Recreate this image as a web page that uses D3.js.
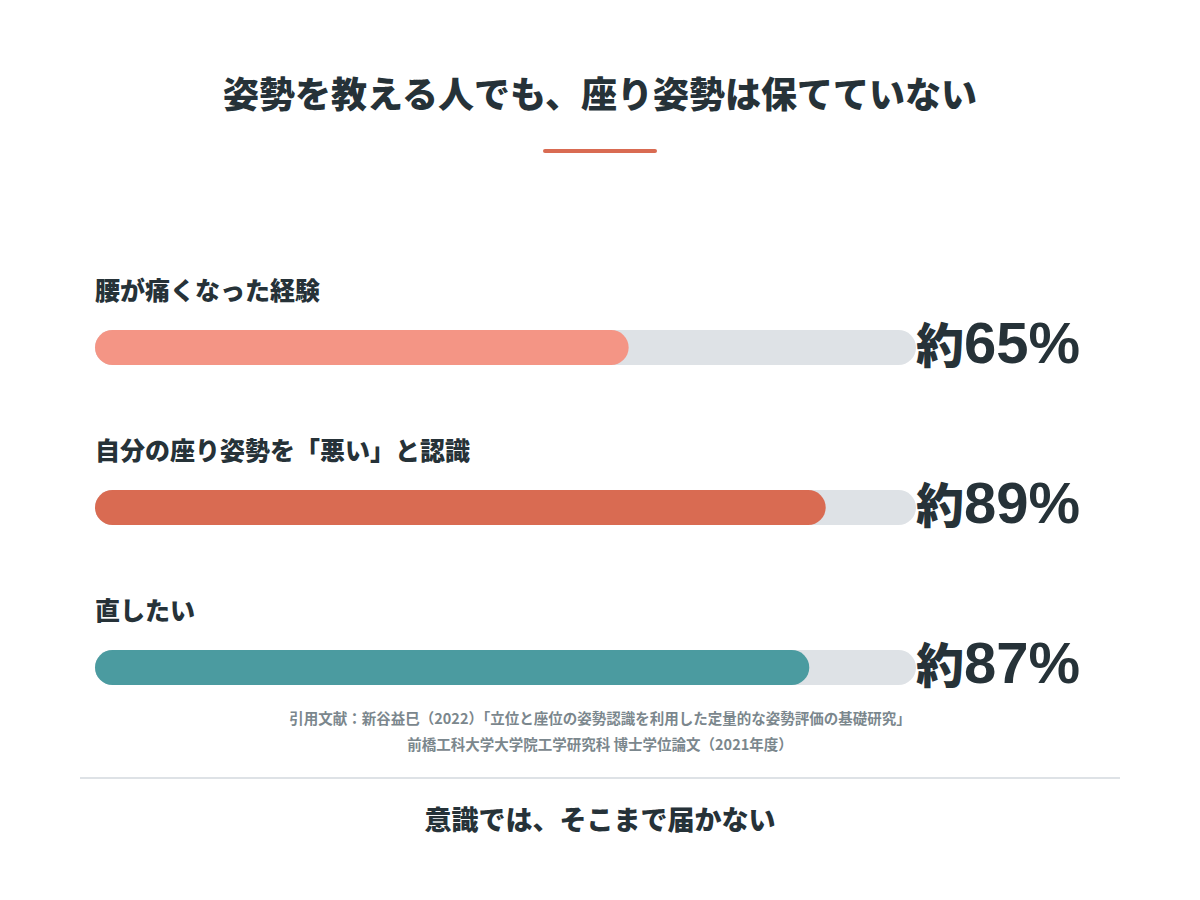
<!DOCTYPE html>
<html><head><meta charset="utf-8">
<script src="https://cdn.jsdelivr.net/npm/d3@7"></script>
<style>
html,body{margin:0;padding:0;background:#fff;}
text{font-family:"Noto Sans CJK JP","Noto Sans",sans-serif;}
</style></head>
<body>
<svg id="chart" width="1200" height="900"></svg>
<script>
const title = "姿勢を教える人でも、座り姿勢は保てていない";
const categories = ["腰が痛くなった経験", "自分の座り姿勢を「悪い」と認識", "直したい"];
const values = [65, 89, 87];
const valuePrefix = ["約", "約", "約"];
const valueSuffix = ["%", "%", "%"];
const colors = ["#f49585", "#d96b52", "#4b9ba0"];
const sourceLines = ["引用文献：新谷益巳（2022）「立位と座位の姿勢認識を利用した定量的な姿勢評価の基礎研究」",
                     "前橋工科大学大学院工学研究科 博士学位論文（2021年度）"];
const footer = "意識では、そこまで届かない";

const svg = d3.select("#chart");
const dark = "#263238";

svg.append("text").attr("x", 600).attr("y", 108).attr("text-anchor", "middle")
  .attr("font-size", 36).attr("font-weight", 900).attr("fill", dark).text(title);
svg.append("line").attr("x1", 545).attr("x2", 655).attr("y1", 151).attr("y2", 151)
  .attr("stroke", "#d96b52").attr("stroke-width", 4).attr("stroke-linecap", "round");

const x = d3.scaleLinear().domain([0, 100]).range([95, 916]);
const y = d3.scaleBand().domain(categories).range([250, 730]).paddingInner(0).paddingOuter(0);
const barH = 35;

const g = svg.append("g").selectAll("g").data(categories).join("g")
  .attr("transform", d => `translate(0,${y(d)})`);

g.append("text").attr("x", 95).attr("y", 50).attr("font-size", 25).attr("font-weight", 900)
  .attr("fill", dark).text(d => d);

g.append("rect").attr("x", x(0)).attr("y", 80).attr("height", barH)
  .attr("width", x(100) - x(0)).attr("rx", barH / 2).attr("fill", "#dee2e6");

g.append("rect").attr("x", x(0)).attr("y", 80).attr("height", barH)
  .attr("width", (d, i) => x(values[i]) - x(0)).attr("rx", barH / 2)
  .attr("fill", (d, i) => colors[i]);

const vt = g.append("text").attr("x", 916).attr("y", 113).attr("font-weight", 900).attr("fill", dark);
vt.append("tspan").attr("font-size", 48).text((d, i) => valuePrefix[i]);
vt.append("tspan").attr("font-size", 58).attr("font-family", "'Liberation Sans', Arial, sans-serif")
  .attr("font-weight", 700).text((d, i) => values[i] + valueSuffix[i]);

svg.selectAll("text.src").data(sourceLines).join("text").attr("class", "src")
  .attr("x", 600).attr("y", (d, i) => 724 + i * 26).attr("text-anchor", "middle")
  .attr("font-size", 14.5).attr("font-weight", 700).attr("fill", "#7b878d").text(d => d);

svg.append("line").attr("x1", 80).attr("x2", 1120).attr("y1", 778).attr("y2", 778)
  .attr("stroke", "#dee2e6").attr("stroke-width", 2);

svg.append("text").attr("x", 600).attr("y", 830).attr("text-anchor", "middle")
  .attr("font-size", 27).attr("font-weight", 900).attr("fill", dark).text(footer);
</script>
</body></html>
